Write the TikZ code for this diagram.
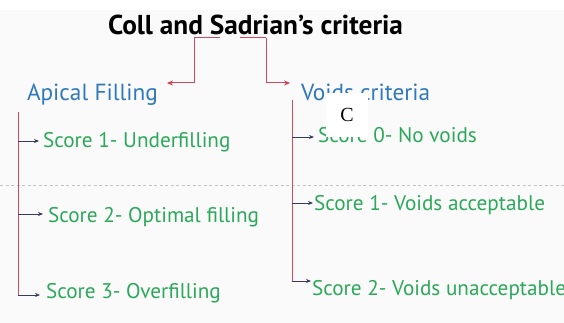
\documentclass[tikz,border=0pt]{standalone}
\usepackage{fontspec}
\setmainfont{PT Sans}
\newfontfamily\serifC{Liberation Serif}
\usetikzlibrary{arrows.meta}
\definecolor{bgc}{HTML}{FAFAFA}
\definecolor{headblue}{HTML}{2F78BD}
\definecolor{scoregreen}{HTML}{2BA85A}
\definecolor{linered}{HTML}{D6485E}
\definecolor{tipred}{HTML}{D23A48}
\definecolor{arrnavy}{HTML}{3A3A5C}
\definecolor{dashgray}{HTML}{C4C4C4}
\tikzset{
  txt/.style={inner sep=0pt, outer sep=0pt, anchor=base west},
  titlestyle/.style={txt, font=\bfseries\fontsize{27.3}{32}\selectfont, text=black},
  headstyle/.style={txt, font=\fontsize{23.3}{28}\selectfont, text=headblue},
  scorestyle/.style={txt, font=\fontsize{21.2}{26}\selectfont, text=scoregreen},
  redline/.style={draw=linered, line width=1pt},
  redarrow/.style={redline, -{Stealth[length=6pt,width=5pt,color=tipred]}},
  subarrow/.style={draw=arrnavy, line width=0.9pt, -{Stealth[length=5pt,width=4pt]}},
  vline/.style={draw=linered, line width=0.9pt},
  labelbox/.style={fill=white, inner sep=0pt, minimum width=42pt, minimum height=44pt, font=\serifC\fontsize{20}{24}\selectfont}
}
\begin{document}
\begin{tikzpicture}[x=1pt,y=-1pt]
\useasboundingbox (0,0) rectangle (564,323);
\fill[bgc] (0,10) rectangle (564,323);
\draw[dashgray, line width=0.8pt, dash pattern=on 3pt off 2.5pt] (0,185) -- (564,185);

% title and headings
\node[titlestyle] (title) at (108,35) {Coll and Sadrian’s criteria};
\node[headstyle] (apical) at (27,101) {Apical Filling};
\node[headstyle] (voids) at (301,101) {Voids criteria};

\coordinate (tl) at (194,38);
\coordinate (tlb) at (220,38);
\coordinate (tr) at (266,38);
\coordinate (trb) at (240,38);
\coordinate (al) at (167,83);
\coordinate (ar) at (290,83);
\draw[redline] (tlb) -- (tl);
\draw[redarrow] (tl) -- (tl |- al) -- (al);
\draw[redline] (trb) -- (tr);
\draw[redarrow] (tr) -- (tr |- ar) -- (ar);

% left branch
\node[scorestyle] (s1) at (43,148) {Score 1- Underfilling};
\node[scorestyle] (s2) at (48,222) {Score 2- Optimal filling};
\node[scorestyle] (s3) at (46,298) {Score 3- Overfilling};
\coordinate (ltop) at (18,112);
\coordinate (l1) at (18,141);
\coordinate (l2) at (18,214);
\coordinate (l3) at (18,295);
\draw[vline] (ltop) -- (l3);
\draw[subarrow] (l1) -- ([xshift=-4pt]l1 -| s1.west);
\draw[subarrow] (l2) -- ([xshift=-5pt]l2 -| s2.west);
\draw[subarrow] (l3) -- ([xshift=-6pt]l3 -| s3.west);

% right branch
\node[scorestyle] (v0) at (318,143) {Score 0- No voids};
\node[scorestyle] (v1) at (314,210) {Score 1- Voids acceptable};
\node[scorestyle] (v2) at (312,295) {Score 2- Voids unacceptable};
\coordinate (rtop) at (292,100);
\coordinate (r0) at (292,137);
\coordinate (r1) at (292,203);
\coordinate (r2) at (292,281);
\draw[vline] (rtop) -- (r2);
\draw[subarrow] (r0) -- ([xshift=-4pt]r0 -| v0.west);
\draw[subarrow] (r1) -- ([xshift=-1pt]r1 -| v1.west);
\draw[subarrow] (r2) -- ([xshift=-1pt]r2 -| v2.west);

% panel label
\node[labelbox] (lab) at (347,115) {C};
\end{tikzpicture}
\end{document}
